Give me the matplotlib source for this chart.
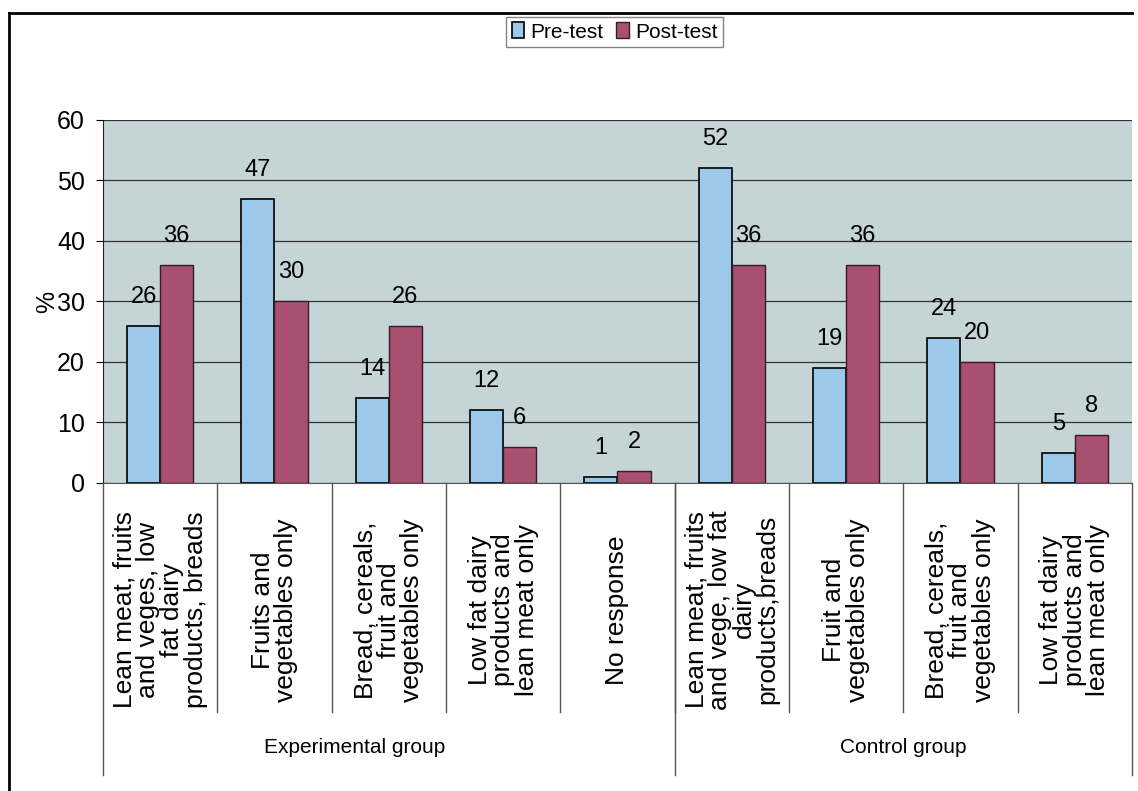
import matplotlib
matplotlib.use("Agg")
import matplotlib.pyplot as plt
import matplotlib.transforms as mtransforms
from matplotlib.lines import Line2D
import numpy as np

# data
categories = [
    "Lean meat, fruits\nand veges, low\nfat dairy\nproducts, breads",
    "Fruits and\nvegetables only",
    "Bread, cereals,\nfruit and\nvegetables only",
    "Low fat dairy\nproducts and\nlean meat only",
    "No response",
    "Lean meat, fruits\nand vege, low fat\ndairy\nproducts,breads",
    "Fruit and\nvegetables only",
    "Bread, cereals,\nfruit and\nvegetables only",
    "Low fat dairy\nproducts and\nlean meat only",
]
pre_test = [26, 47, 14, 12, 1, 52, 19, 24, 5]
post_test = [36, 30, 26, 6, 2, 36, 36, 20, 8]
groups = ["Experimental group", "Control group"]
group_sizes = [5, 4]

plt.rcParams['font.family'] = ['Liberation Sans', 'DejaVu Sans']

pre_col = '#9cc8ea'
post_col = '#a8506f'

fig = plt.figure(figsize=(11.38, 7.91), dpi=100)
ax = fig.add_axes([0.0905, 0.3894, 0.9042, 0.4589])
ax.set_facecolor('#c4d4d7')

x = np.arange(len(categories)) + 0.5
w = 0.29
b1 = ax.bar(x - w / 2, pre_test, w, color=pre_col, edgecolor='black', linewidth=1.2, label='Pre-test', zorder=3)
b2 = ax.bar(x + w / 2, post_test, w, color=post_col, edgecolor='#3a1a24', linewidth=1.0, label='Post-test', zorder=3)

for xi, v in zip(x - w / 2, pre_test):
    ax.annotate(str(v), (xi, v), xytext=(0, 13), textcoords='offset points',
                ha='center', va='bottom', fontsize=17)
for xi, v in zip(x + w / 2, post_test):
    ax.annotate(str(v), (xi, v), xytext=(0, 13), textcoords='offset points',
                ha='center', va='bottom', fontsize=17)

ax.set_xlim(0, len(categories))
ax.set_ylim(0, 60)
ax.set_yticks(range(0, 61, 10))
ax.tick_params(axis='y', labelsize=18, length=5, pad=8)
ax.set_xticks([])
ax.grid(axis='y', color='#333333', linewidth=0.9, zorder=1)
for s in ['top', 'right']:
    ax.spines[s].set_visible(False)
ax.spines['left'].set_color('#222222')
ax.spines['bottom'].set_color('#555555')
ax.set_ylabel('%', fontsize=18)
ax.yaxis.set_label_coords(-0.043, 0.5)

# category labels and separators below the axis
trans = mtransforms.blended_transform_factory(ax.transData, fig.transFigure)
for xi, lab in zip(x, categories):
    ax.text(xi, 0.229, lab, transform=trans, rotation=90, ha='center', va='center',
            multialignment='center', fontsize=19, linespacing=0.98)
for i in range(1, len(categories)):
    ax.add_line(Line2D([i, i], [0.3894, 0.1], transform=trans, color='#555555',
                       linewidth=1.0, clip_on=False))

# group labels and group separators
edges = np.concatenate([[0], np.cumsum(group_sizes)])
for e in edges:
    ax.add_line(Line2D([e, e], [0.3894, 0.02], transform=trans, color='#555555',
                       linewidth=1.0, clip_on=False))
label_shift = [-0.3, 0.0]
for g, a, b, s in zip(groups, edges[:-1], edges[1:], label_shift):
    ax.text((a + b) / 2 + s, 0.055, g, transform=trans, ha='center', va='center', fontsize=15)

# legend box at the top
fig.legend(handles=[b1, b2], labels=['Pre-test', 'Post-test'], loc='center',
           bbox_to_anchor=(0.54, 0.9595), ncol=2, fontsize=15, frameon=True,
           fancybox=False, edgecolor='#666666', handlelength=0.6, handleheight=0.8,
           handletextpad=0.3, columnspacing=0.6, borderpad=0.25)

# outer frame
fig.add_artist(Line2D([0.0079, 0.995], [0.9836, 0.9836], transform=fig.transFigure,
                      color='black', linewidth=2))
fig.add_artist(Line2D([0.0079, 0.0079], [0.0, 0.9836], transform=fig.transFigure,
                      color='black', linewidth=2))

plt.savefig('out.png', dpi=100)
